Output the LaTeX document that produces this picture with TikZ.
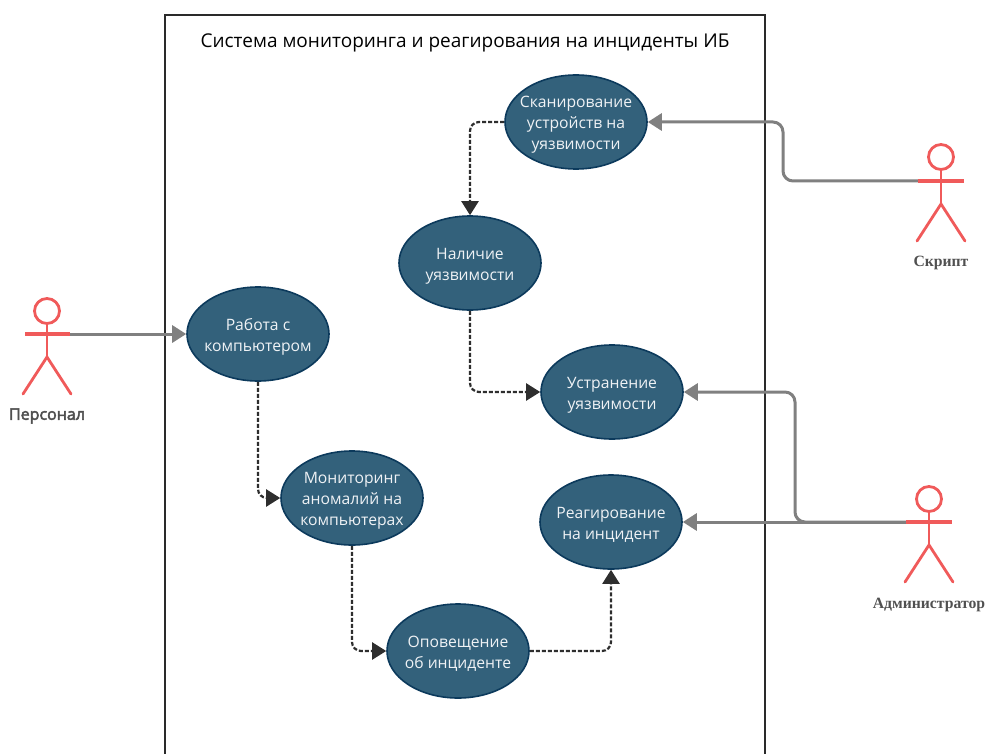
\documentclass[tikz,border=0pt]{standalone}
\usepackage{fontspec}
\setmainfont{Open Sans}
\newfontfamily\serifactor{Liberation Serif}
\newfontfamily\sansactor[FakeBold=3]{Open Sans}
\usetikzlibrary{arrows.meta,shapes.geometric}
\definecolor{ucfill}{HTML}{33617B}
\definecolor{ucline}{HTML}{0C3A5C}
\definecolor{actorred}{HTML}{F05A5A}
\definecolor{assocgray}{HTML}{808080}
\definecolor{flowdark}{HTML}{2E2E2E}
\definecolor{framedark}{HTML}{2A2A2A}
\definecolor{labelgray}{HTML}{505050}
\newcommand{\ucfirst}{\rule{0pt}{18pt}}
\newcommand{\uclast}{\rule[-5pt]{0pt}{5pt}}
\tikzset{
  usecase/.style={ellipse,draw=ucline,line width=1.6pt,fill=ucfill,text=white!92!ucfill,
    minimum width=142pt,minimum height=94pt,inner xsep=-22pt,inner ysep=-16pt,align=center,
    font=\fontsize{15.7}{21}\selectfont},
  assoc/.style={draw=assocgray,line width=3pt,rounded corners=10pt,
    -{Triangle[length=14pt,width=17pt,fill=assocgray]}},
  flow/.style={draw=flowdark,line width=2.2pt,rounded corners=9pt,dash pattern=on 4pt off 2pt,
    -{Triangle[length=14pt,width=17pt,fill=flowdark]}},
  limb/.style={draw=actorred,line width=2.8pt},
  arm/.style={draw=actorred,line width=3.4pt},
  actorsans/.style={text=labelgray,font=\sansactor\fontsize{16}{18}\selectfont},
  actorserif/.style={text=labelgray,font=\serifactor\fontsize{15.7}{18}\selectfont\bfseries},
}
\begin{document}
\begin{tikzpicture}[x=1pt,y=-1pt]
\useasboundingbox (0,0) rectangle (987,754);
\draw[framedark,line width=2.6pt,fill=white] (165,754) -- (165,15) -- (765,15) -- (765,754);
\node (title) at (465,43) {\fontsize{19}{23}\selectfont Система мониторинга и реагирования на инциденты ИБ};

\node[usecase] (scan) at (576,122) {\ucfirst Сканирование\\устройств на\\уязвимости\uclast};
\node[usecase] (vuln) at (470,263) {\ucfirst Наличие\\уязвимости\uclast};
\node[usecase] (fix) at (612,392) {\ucfirst Устранение\\уязвимости\uclast};
\node[usecase] (work) at (258,334) {\ucfirst Работа с\\компьютером\uclast};
\node[usecase] (mon) at (352,498) {\ucfirst Мониторинг\\аномалий на\\компьютерах\uclast};
\node[usecase] (react) at (611,522) {\ucfirst Реагирование\\на инцидент\uclast};
\node[usecase] (alert) at (458,651) {\ucfirst Оповещение\\об инциденте\uclast};

% actor Персонал
\node[circle,draw=actorred,line width=2.8pt,minimum size=25pt,inner sep=0pt] (headP) at (47,311) {};
\coordinate (armPl) at (25,334); \coordinate (armPr) at (70,334);
\coordinate (hipP) at (47,357);
\draw[limb] (headP.south) -- (hipP);
\draw[limb,line cap=round] (23,394) -- (hipP) -- (71,394);
\node[actorsans] (labP) at (47,416) {Персонал};
% actor Скрипт
\node[circle,draw=actorred,line width=2.8pt,minimum size=25pt,inner sep=0pt] (headS) at (941,157) {};
\coordinate (armSl) at (918,181); \coordinate (armSr) at (964,181);
\coordinate (hipS) at (941,204);
\draw[limb] (headS.south) -- (hipS);
\draw[limb,line cap=round] (917,241) -- (hipS) -- (965,241);
\node[actorserif] (labS) at (941,263) {Скрипт};
% actor Администратор
\node[circle,draw=actorred,line width=2.8pt,minimum size=25pt,inner sep=0pt] (headA) at (929,499) {};
\coordinate (armAl) at (906,522); \coordinate (armAr) at (952,522);
\coordinate (hipA) at (929,545);
\draw[limb] (headA.south) -- (hipA);
\draw[limb,line cap=round] (905,582) -- (hipA) -- (953,582);
\node[actorserif] (labA) at (929,605) {Администратор};

% associations
\draw[assoc] (armPr) -- (work.west);
\draw[assoc] (armSl) -- (783,181) -- (783,122) -- (scan.east);
\draw[assoc] (armAl) -- (react.east);
\draw[assoc] (armAl) -- (795,522) -- (795,392) -- (fix.east);
\draw[arm] (armPl) -- (armPr);
\draw[arm] (armSl) -- (armSr);
\draw[arm] (armAl) -- (armAr);

% flows
\draw[flow] (scan.west) -- (470,122) -- (vuln.north);
\draw[flow] (vuln.south) -- (470,392) -- (fix.west);
\draw[flow] (work.south) -- (258,498) -- (mon.west);
\draw[flow] (mon.south) -- (352,651) -- (alert.west);
\draw[flow] (alert.east) -- (611,651) -- (react.south);
\end{tikzpicture}
\end{document}
